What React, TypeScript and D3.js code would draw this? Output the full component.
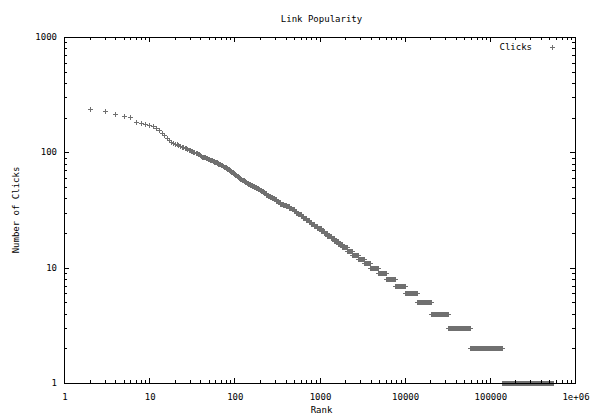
import React from 'react';
import * as d3 from 'd3';

const title = 'Link Popularity';
const xLabel = 'Rank';
const yLabel = 'Number of Clicks';
const seriesName = 'Clicks';

const xTicks = [1, 10, 100, 1000, 10000, 100000, 1000000];
const xTickLabels = ['1', '10', '100', '1000', '10000', '100000', '1e+06'];
const yTicks = [1, 10, 100, 1000];
const yTickLabels = ['1', '10', '100', '1000'];

// individual top-ranked links (rank -> clicks)
const topRanks = [2, 3, 4, 5, 6, 7, 8, 9, 10, 11, 12, 13, 14, 15, 16, 17, 18, 19, 20, 21, 22, 23, 24, 25, 26, 27, 28, 29, 30, 31, 32, 33, 34, 35, 36, 37, 38, 39, 40, 41, 42, 43];
const topClicks = [238, 229, 217, 207, 204, 182, 180, 177, 174, 169, 161, 156, 148, 140, 133, 128, 124, 121, 119, 117, 116, 114, 112, 111, 109, 108, 107, 105, 104, 103, 102, 101, 100, 99, 98, 97, 96, 95, 94, 93, 92, 92];

// click levels and the last rank holding that many clicks
const levelClicks = [91, 90, 89, 88, 87, 86, 85, 84, 83, 82, 81, 80, 79, 78, 77, 76, 75, 74, 73, 72, 71, 70, 69, 68, 67, 66, 65, 64, 63, 62, 61, 60, 59, 58, 57, 56, 55, 54, 53, 52, 51, 50, 49, 48, 47, 46, 45, 44, 43, 42, 41, 40, 39, 38, 37, 36, 35, 34, 33, 32, 31, 30, 29, 28, 27, 26, 25, 24, 23, 22, 21, 20, 19, 18, 17, 16, 15, 14, 13, 12, 11, 10, 9, 8, 7, 6, 5, 4, 3, 2, 1];
const levelLastRank = [45, 46, 48, 50, 51, 53, 55, 57, 60, 62, 64, 66, 68, 70, 72, 74, 77, 79, 82, 85, 87, 89, 91, 94, 96, 98, 101, 104, 106, 110, 113, 117, 121, 125, 129, 134, 138, 145, 152, 161, 170, 180, 189, 197, 206, 216, 226, 237, 249, 261, 275, 289, 305, 322, 344, 372, 403, 437, 469, 498, 529, 564, 602, 644, 691, 743, 802, 868, 943, 1028, 1123, 1233, 1359, 1494, 1652, 1860, 2116, 2432, 2824, 3322, 3962, 4812, 5972, 7613, 10050, 13900, 20500, 32500, 59000, 138000, 558000];

const W = 590;
const H = 419;
const L = 64;
const R = 575;
const T = 37;
const B = 383;
const FONT = 'DejaVu Sans Mono';
const MARK = '#707070';

function plusPath(px: number, py: number, a: number) {
  const cx = Math.round(px) + 0.5;
  const cy = Math.round(py) + 0.5;
  return `M${cx - a},${cy}H${cx + a}M${cx},${cy - a}V${cy + a}`;
}

export default function App() {
  const x = d3.scaleLog().domain([1, 1e6]).range([L, R]);
  const y = d3.scaleLog().domain([1, 1000]).range([B, T]);

  // build point marks, merging those that land on the same pixel
  const seen = new Set<string>();
  let d = '';
  const add = (r: number, c: number) => {
    const px = Math.round(x(r));
    const py = Math.round(y(c));
    const key = px + ',' + py;
    if (seen.has(key)) return;
    seen.add(key);
    d += plusPath(px, py, 2.5);
  };
  topRanks.forEach((r, i) => add(r, topClicks[i]));
  let prev = topRanks[topRanks.length - 1];
  levelClicks.forEach((c, i) => {
    const last = levelLastRank[i];
    for (let r = prev + 1; r <= last; r++) add(r, c);
    prev = last;
  });

  const minorX: number[] = [];
  for (let e = 0; e < 6; e++) for (let m = 2; m <= 9; m++) minorX.push(m * Math.pow(10, e));
  const minorY: number[] = [];
  for (let e = 0; e < 3; e++) for (let m = 2; m <= 9; m++) minorY.push(m * Math.pow(10, e));

  let ticks = '';
  const tx = (v: number, len: number) => {
    const px = Math.round(x(v)) + 0.5;
    ticks += `M${px},${B}V${B - len}M${px},${T}V${T + len}`;
  };
  const ty = (v: number, len: number) => {
    const py = Math.round(y(v)) + 0.5;
    ticks += `M${L},${py}H${L + len}M${R},${py}H${R - len}`;
  };
  xTicks.forEach((v) => tx(v, 5));
  minorX.forEach((v) => tx(v, 3));
  yTicks.forEach((v) => ty(v, 5));
  minorY.forEach((v) => ty(v, 3));

  return (
    <svg
      width={W}
      height={H}
      style={{ position: 'absolute', left: 0, top: 0, display: 'block', background: '#fff' }}
      fontFamily={FONT}
      fontSize={9}
    >
      <rect x={0} y={0} width={W} height={H} fill="#fff" />
      <text x={(L + R) / 2 + 2} y={22} textAnchor="middle">{title}</text>
      <path d={d} stroke={MARK} strokeWidth={1} fill="none" shapeRendering="crispEdges" />
      <path d={ticks} stroke="#000" strokeWidth={1} fill="none" shapeRendering="crispEdges" />
      <rect x={L + 0.5} y={T + 0.5} width={R - L} height={B - T} fill="none" stroke="#000" strokeWidth={1} shapeRendering="crispEdges" />
      {yTicks.map((v, i) => (
        <text key={'yl' + i} x={L - 7} y={y(v)} dy="0.35em" textAnchor="end">{yTickLabels[i]}</text>
      ))}
      {xTicks.map((v, i) => (
        <text key={'xl' + i} x={x(v) + 1} y={400} textAnchor="middle">{xTickLabels[i]}</text>
      ))}
      <text x={(L + R) / 2 + 2} y={413} textAnchor="middle">{xLabel}</text>
      <text transform={`translate(19,${(T + B) / 2}) rotate(-90)`} textAnchor="middle">{yLabel}</text>
      <text x={532} y={47} dy="0.35em" textAnchor="end">{seriesName}</text>
      <path d={plusPath(552, 47, 2.5)} stroke={MARK} strokeWidth={1} fill="none" shapeRendering="crispEdges" />
    </svg>
  );
}
